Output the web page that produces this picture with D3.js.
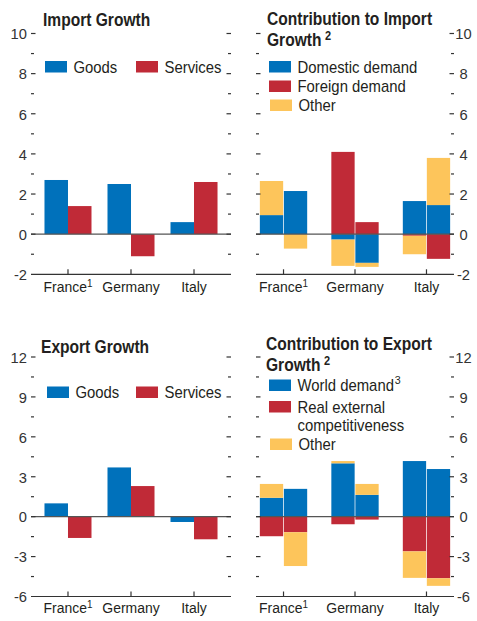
<!DOCTYPE html>
<html><head><meta charset="utf-8">
<script src="https://cdn.jsdelivr.net/npm/d3@7"></script>
<style>body{margin:0;background:#fff} svg{display:block}</style>
</head><body>
<svg id="c" width="477" height="621"></svg>
<script>
// ---------------- data ----------------
const countries = ["France", "Germany", "Italy"];
const countrySup = ["1", "", ""];
const growthSeries = ["Goods", "Services"];
const importGoods = [2.7, 2.5, 0.6];
const importServices = [1.4, -1.1, 2.6];
const exportGoods = [1.0, 3.7, -0.4];
const exportServices = [-1.6, 2.3, -1.7];

const periods = ["A", "B"]; // two bars per country
const impContribSeries = ["Domestic demand", "Foreign demand", "Other"];
// order: France A, France B, Germany A, Germany B, Italy A, Italy B
const impDomestic = [0.95, 2.15, -0.27, -1.43, 1.65, 1.45];
const impForeign  = [0.0, 0.0, 4.1, 0.6, -0.08, -1.23];
const impOther    = [1.7, -0.72, -1.31, -0.2, -0.92, 2.35];

const expContribSeries = ["World demand", "Real external competitiveness", "Other"];
const expWorld    = [1.42, 2.09, 4.01, 1.64, 4.18, 3.58];
const expRealExt  = [-1.47, -1.17, -0.57, -0.22, -2.61, -4.63];
const expOther    = [1.04, -2.54, 0.17, 0.82, -1.99, -0.57];

const importTicks = [-2, 0, 2, 4, 6, 8, 10];
const importMinor = [-1, 1, 3, 5, 7, 9];
const exportTicks = [-6, -3, 0, 3, 6, 9, 12];
const exportMinor = [-4.5, -1.5, 1.5, 4.5, 7.5, 10.5];

// ---------------- style ----------------
const BLUE = "#0071bb", RED = "#c02a37", YEL = "#fdc55b";
const TXT = "#231f20";
const FONT = "'Liberation Sans', Arial, sans-serif";
const svg = d3.select("#c");

// condensed-looking text: a text inside a horizontally squeezed group
function sText(parent, x, y, sx, size, weight) {
  return parent.append("g").attr("transform", `translate(${x},${y}) scale(${sx},1)`)
    .append("text").attr("font-family", FONT).attr("font-size", size)
    .attr("font-weight", weight || "normal").attr("fill", TXT);
}

function drawPanel(o) {
  const g = svg.append("g");
  const y = d3.scaleLinear().domain(o.domain).range(o.yRange);
  const x0 = d3.scaleBand().domain(countries).range(o.xRange)
      .paddingInner(o.padIn).paddingOuter(o.padOut);

  o.drawBars(g, x0, y);

  g.append("line").attr("x1", o.xRange[0]).attr("x2", o.xRange[1])
    .attr("y1", y(0)).attr("y2", y(0))
    .attr("stroke", "#555").attr("stroke-width", 1.3);
  const yb = y(o.domain[0]);
  g.append("line").attr("x1", o.xRange[0]).attr("x2", o.xRange[1])
    .attr("y1", yb).attr("y2", yb).attr("stroke", "#333").attr("stroke-width", 1.2);
  countries.forEach((c, i) => {
    const cx = x0(c) + x0.bandwidth() / 2;
    g.append("line").attr("x1", cx).attr("x2", cx).attr("y1", yb).attr("y2", yb - 5)
      .attr("stroke", "#333").attr("stroke-width", 1.2);
    const t = sText(g, cx, o.catY, 0.9, 15.5).attr("text-anchor", "middle").text(c);
    if (countrySup[i]) t.append("tspan").attr("dy", -5).attr("font-size", 11).text(countrySup[i]);
  });
  const L = o.xRange[0], R = o.xRange[1];
  o.ticks.forEach(v => {
    if (v === o.domain[0]) return;
    g.append("line").attr("x1", L).attr("x2", L + 4.5).attr("y1", y(v)).attr("y2", y(v))
      .attr("stroke", "#333").attr("stroke-width", 1.2);
    g.append("line").attr("x1", R - 4.5).attr("x2", R).attr("y1", y(v)).attr("y2", y(v))
      .attr("stroke", "#333").attr("stroke-width", 1.2);
  });
  o.minor.forEach(v => {
    g.append("line").attr("x1", L).attr("x2", L + 3).attr("y1", y(v)).attr("y2", y(v))
      .attr("stroke", "#333").attr("stroke-width", 1.2);
    g.append("line").attr("x1", R - 3).attr("x2", R).attr("y1", y(v)).attr("y2", y(v))
      .attr("stroke", "#333").attr("stroke-width", 1.2);
  });
  o.ticks.forEach(v => {
    sText(g, o.labelX, y(v) + 5.8, 0.95, 15.5).attr("text-anchor", o.labelAnchor)
      .attr("fill", "#333").text(v);
  });
  // title
  const tt = sText(g, o.titleX, o.titleY, 0.88, 17.7, "bold");
  o.title.forEach((line, i) => {
    tt.append("tspan").attr("x", 0).attr("y", i * o.titleLH).text(line);
  });
  if (o.titleSup) {
    tt.append("tspan").attr("dx", 4).attr("dy", -6).attr("font-size", 12.5).text(o.titleSup);
  }
  // legend
  o.legend.forEach(l => {
    g.append("rect").attr("x", l.x).attr("y", l.y).attr("width", 22).attr("height", 11.5).attr("fill", l.color);
    const t = sText(g, l.x + 28.5, l.y + 11.5, 0.93, 16);
    l.lines.forEach((s, i) => t.append("tspan").attr("x", 0).attr("y", i * 18.5).text(s));
    if (l.sup) t.append("tspan").attr("dx", 1).attr("dy", -7).attr("font-size", 11.5).text(l.sup);
  });
}

function groupedBars(vals1, vals2) {
  return (g, x0, y) => {
    const x1 = d3.scaleBand().domain(growthSeries).range([0, x0.bandwidth()]);
    const cols = [BLUE, RED];
    [vals1, vals2].forEach((vals, si) => {
      g.selectAll(null).data(countries).enter().append("rect")
        .attr("x", c => x0(c) + x1(growthSeries[si]))
        .attr("width", x1.bandwidth())
        .attr("y", (c, i) => y(Math.max(0, vals[i])))
        .attr("height", (c, i) => Math.abs(y(vals[i]) - y(0)))
        .attr("fill", cols[si]);
    });
  };
}

function stackedBars(keys, arrays) {
  return (g, x0, y) => {
    const x1 = d3.scaleBand().domain(periods).range([0, x0.bandwidth()]).paddingInner(0.03);
    const rows = [];
    countries.forEach((c, ci) => periods.forEach((p, pi) => {
      const r = {country: c, period: p};
      keys.forEach((k, ki) => r[k] = arrays[ki][ci * 2 + pi]);
      rows.push(r);
    }));
    const stack = d3.stack().keys(keys).offset(d3.stackOffsetDiverging)(rows);
    const cols = [BLUE, RED, YEL];
    stack.forEach((layer, li) => {
      g.selectAll(null).data(layer).enter().append("rect")
        .attr("x", d => x0(d.data.country) + x1(d.data.period))
        .attr("width", x1.bandwidth())
        .attr("y", d => y(Math.max(d[0], d[1])))
        .attr("height", d => Math.abs(y(d[0]) - y(d[1])))
        .attr("fill", cols[li]);
    });
  };
}

const leftX = [31, 231], rightX = [256, 454];
const topY = [274.3, 33.5], botY = [596.5, 357];

drawPanel({
  domain: [-2, 10], yRange: topY, xRange: leftX, padIn: 0.254, padOut: 0.214,
  ticks: importTicks, minor: importMinor, labelX: 27, labelAnchor: "end", catY: 292,
  title: ["Import Growth"], titleX: 43, titleY: 26, titleLH: 0,
  legend: [{x: 45, y: 61, color: BLUE, lines: [growthSeries[0]]},
           {x: 136, y: 61, color: RED, lines: [growthSeries[1]]}],
  drawBars: groupedBars(importGoods, importServices)
});

drawPanel({
  domain: [-2, 10], yRange: topY, xRange: rightX, padIn: 0.338, padOut: 0.054,
  ticks: importTicks, minor: importMinor, labelX: 463.5, labelAnchor: "middle", catY: 292,
  title: ["Contribution to Import", "Growth"], titleSup: "2", titleX: 267, titleY: 25, titleLH: 21,
  legend: [{x: 269, y: 61, color: BLUE, lines: [impContribSeries[0]]},
           {x: 269, y: 80.5, color: RED, lines: [impContribSeries[1]]},
           {x: 270, y: 99.5, color: YEL, lines: [impContribSeries[2]]}],
  drawBars: stackedBars(impContribSeries, [impDomestic, impForeign, impOther])
});

drawPanel({
  domain: [-6, 12], yRange: botY, xRange: leftX, padIn: 0.254, padOut: 0.214,
  ticks: exportTicks, minor: exportMinor, labelX: 27, labelAnchor: "end", catY: 613,
  title: ["Export Growth"], titleX: 41, titleY: 353, titleLH: 0,
  legend: [{x: 47, y: 386.5, color: BLUE, lines: [growthSeries[0]]},
           {x: 136, y: 386.5, color: RED, lines: [growthSeries[1]]}],
  drawBars: groupedBars(exportGoods, exportServices)
});

drawPanel({
  domain: [-6, 12], yRange: botY, xRange: rightX, padIn: 0.338, padOut: 0.054,
  ticks: exportTicks, minor: exportMinor, labelX: 463.5, labelAnchor: "middle", catY: 613,
  title: ["Contribution to Export", "Growth"], titleSup: "2", titleX: 266, titleY: 350, titleLH: 21.5,
  legend: [{x: 269, y: 379.5, color: BLUE, lines: ["World demand"], sup: "3"},
           {x: 269, y: 401, color: RED, lines: ["Real external", "competitiveness"]},
           {x: 270, y: 438.5, color: YEL, lines: [expContribSeries[2]]}],
  drawBars: stackedBars(expContribSeries, [expWorld, expRealExt, expOther])
});
</script>
</body></html>
